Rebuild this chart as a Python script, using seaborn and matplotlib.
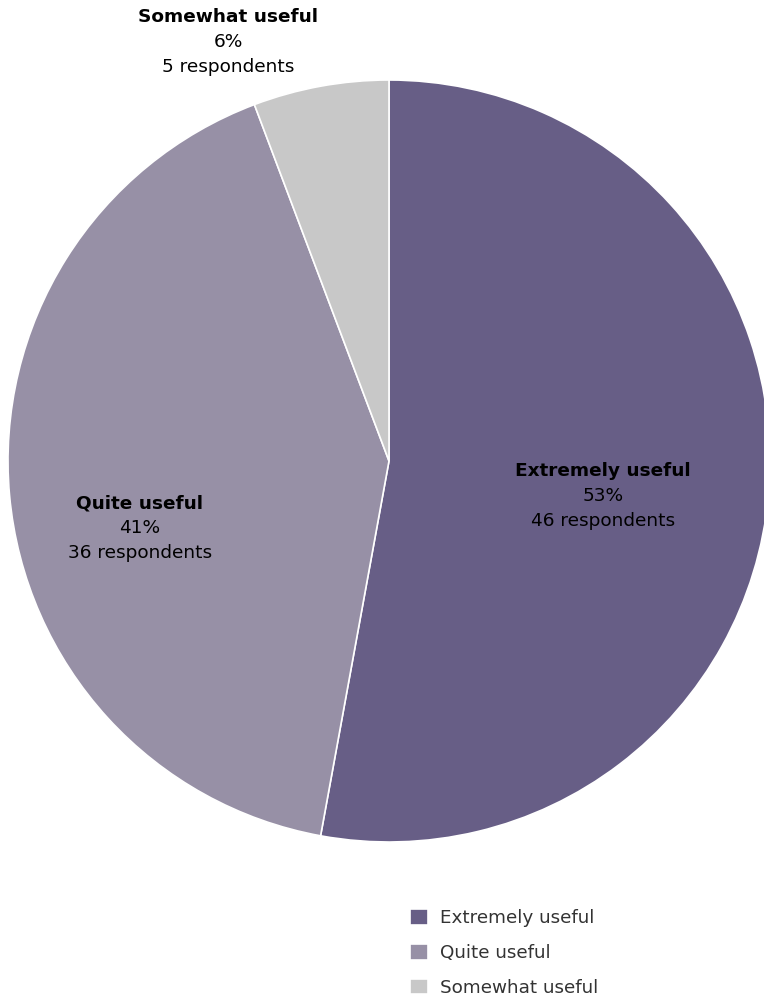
import matplotlib
matplotlib.use("Agg")
import matplotlib.pyplot as plt
import seaborn as sns

categories = ["Extremely useful", "Quite useful", "Somewhat useful"]
respondents = [46, 36, 5]
colors = ["#675e86", "#9790a6", "#c8c8c8"]

sns.set_theme(style="white")
plt.rcParams["font.family"] = ["DejaVu Sans"]

W, H = 764, 998
fig = plt.figure(figsize=(W / 100, H / 100), dpi=100)
ax = fig.add_axes([0, 0, 1, 1])

cx, cy, r = 389, H - 461, 381
wedges, _ = ax.pie(
    respondents,
    colors=sns.color_palette(colors),
    startangle=90,
    counterclock=False,
    center=(cx, cy),
    radius=r,
    wedgeprops=dict(edgecolor="white", linewidth=1.2),
    frame=True,
)
ax.set_xlim(0, W)
ax.set_ylim(0, H)
ax.set_aspect("equal")
ax.axis("off")

total = sum(respondents)
label_pos = [(603, H - 471), (140, H - 503), (228, H - 17)]
fs = 13.3
for name, n, (x, y) in zip(categories, respondents, label_pos):
    pct = round(100 * n / total)
    ax.text(x, y, name, ha="center", va="center", fontsize=fs,
            fontweight="bold", color="black")
    ax.text(x, y - 25, f"{pct}%", ha="center", va="center", fontsize=fs,
            color="black")
    ax.text(x, y - 50, f"{n} respondents", ha="center", va="center",
            fontsize=fs, color="black")

leg = ax.legend(
    wedges, categories,
    loc="upper left",
    bbox_to_anchor=(401 / W, 1 - 900 / H),
    frameon=False,
    fontsize=13.2,
    handlelength=0.95,
    handleheight=0.95,
    handletextpad=0.65,
    labelspacing=0.9,
    borderpad=0,
)
for t in leg.get_texts():
    t.set_color("#333333")

fig.savefig("out.png", dpi=100)
